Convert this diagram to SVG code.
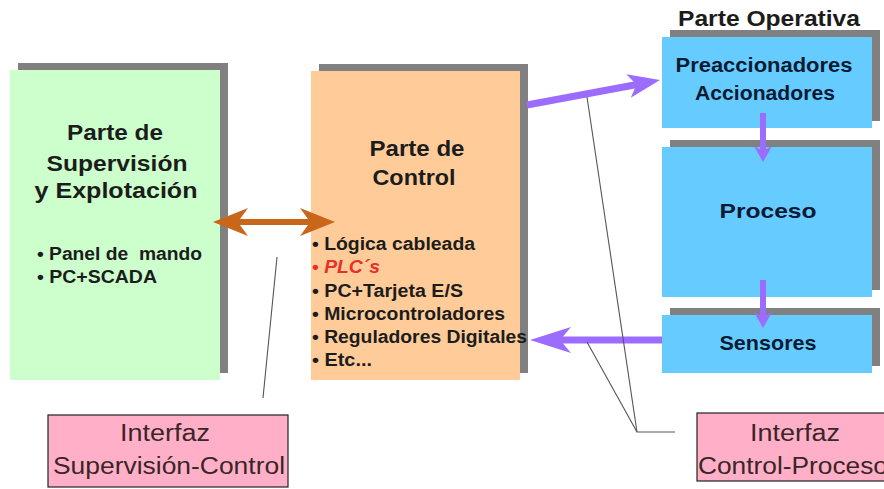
<svg xmlns="http://www.w3.org/2000/svg" width="884" height="489" viewBox="0 0 884 489">
<style>
.sh{fill:#808080}
.t{font-family:"Liberation Sans",Arial,sans-serif;font-weight:bold;fill:#1c1c1c}
.tb{font-family:"Liberation Sans",Arial,sans-serif;font-weight:bold;fill:#0b1a33}
.p{font-family:"Liberation Sans",Arial,sans-serif;fill:#3a2626;font-size:23px}
.lbl{fill:#ffb0c8;stroke:#222;stroke-width:1.2}
.thin{stroke:#555;stroke-width:1.1;fill:none}
.pur{fill:#9c6cff}
.purl{stroke:#9c6cff;fill:none}
</style>
<rect width="884" height="489" fill="#ffffff"/>

<g id="supervision">
<rect class="sh" x="18" y="63" width="210" height="310"/>
<rect x="10" y="70" width="210" height="310" fill="#ccffcc"/>
<text class="t" font-size="22" text-anchor="middle" x="115" y="140" textLength="96" lengthAdjust="spacingAndGlyphs">Parte de</text>
<text class="t" font-size="22" text-anchor="middle" x="117" y="171" textLength="141" lengthAdjust="spacingAndGlyphs">Supervisión</text>
<text class="t" font-size="22" text-anchor="middle" x="116" y="198" textLength="163" lengthAdjust="spacingAndGlyphs">y Explotación</text>
<text class="t" font-size="18" x="37" y="260" textLength="165" lengthAdjust="spacingAndGlyphs" xml:space="preserve">• Panel de  mando</text>
<text class="t" font-size="18" x="37" y="283" textLength="120" lengthAdjust="spacingAndGlyphs">• PC+SCADA</text>
</g>

<g id="control">
<rect class="sh" x="319" y="64" width="209" height="309"/>
<rect x="311" y="71" width="209" height="309" fill="#ffcc99"/>
<text class="t" font-size="22" text-anchor="middle" x="417" y="156" textLength="95" lengthAdjust="spacingAndGlyphs">Parte de</text>
<text class="t" font-size="22" text-anchor="middle" x="414" y="185" textLength="83" lengthAdjust="spacingAndGlyphs">Control</text>
<text class="t" font-size="18" x="312" y="250" textLength="163" lengthAdjust="spacingAndGlyphs">• Lógica cableada</text>
<text class="t" font-size="18" x="312" y="273" textLength="68" lengthAdjust="spacingAndGlyphs" style="fill:#e8302a"><tspan>• </tspan><tspan font-style="italic">PLC´s</tspan></text>
<text class="t" font-size="18" x="312" y="297" textLength="151" lengthAdjust="spacingAndGlyphs">• PC+Tarjeta E/S</text>
<text class="t" font-size="18" x="312" y="320" textLength="193" lengthAdjust="spacingAndGlyphs">• Microcontroladores</text>
<text class="t" font-size="18" x="312" y="343" textLength="215" lengthAdjust="spacingAndGlyphs">• Reguladores Digitales</text>
<text class="t" font-size="18" x="312" y="366" textLength="60" lengthAdjust="spacingAndGlyphs">• Etc...</text>
</g>

<g id="operativa-title">
<text class="t" font-size="22" text-anchor="middle" x="769" y="26" textLength="182" lengthAdjust="spacingAndGlyphs">Parte Operativa</text>
</g>

<g id="preaccionadores">
<rect class="sh" x="670" y="30" width="210" height="91"/>
<rect x="662" y="37" width="210" height="91" fill="#66ccff"/>
<text class="tb" font-size="20" text-anchor="middle" x="764" y="72" textLength="177" lengthAdjust="spacingAndGlyphs">Preaccionadores</text>
<text class="tb" font-size="20" text-anchor="middle" x="765" y="100" textLength="140" lengthAdjust="spacingAndGlyphs">Accionadores</text>
</g>

<g id="proceso">
<rect class="sh" x="670" y="140" width="210" height="150"/>
<rect x="662" y="147" width="210" height="150" fill="#66ccff"/>
<text class="tb" font-size="21" text-anchor="middle" x="768" y="218" textLength="97" lengthAdjust="spacingAndGlyphs">Proceso</text>
</g>

<g id="sensores">
<rect class="sh" x="670" y="308" width="210" height="58"/>
<rect x="662" y="315" width="210" height="58" fill="#66ccff"/>
<text class="tb" font-size="21" text-anchor="middle" x="768" y="350" textLength="97" lengthAdjust="spacingAndGlyphs">Sensores</text>
</g>

<g id="interfaz-sc">
<rect class="lbl" x="48" y="415" width="240" height="72"/>
<text class="p" text-anchor="middle" x="165" y="441" textLength="90" lengthAdjust="spacingAndGlyphs">Interfaz</text>
<text class="p" text-anchor="middle" x="169" y="474" textLength="232" lengthAdjust="spacingAndGlyphs">Supervisión-Control</text>
</g>

<g id="interfaz-cp">
<rect class="lbl" x="697" y="413" width="200" height="68"/>
<text class="p" text-anchor="middle" x="795" y="441" textLength="90" lengthAdjust="spacingAndGlyphs">Interfaz</text>
<text class="p" x="698" y="474" textLength="190" lengthAdjust="spacingAndGlyphs">Control-Proceso</text>
</g>

<g id="connectors">
<path d="M213,222 L248,208 L240,219 L308,219 L300,208 L335,222 L300,236 L308,225 L240,225 L248,236 Z" fill="#c8661a"/>
<line class="purl" x1="527" y1="105" x2="637" y2="84.5" stroke-width="7"/>
<path class="pur" d="M660,80 L626.3,74.2 L636.4,84.5 L630.8,97.8 Z"/>
<line class="purl" x1="662" y1="340" x2="558" y2="340" stroke-width="7"/>
<path class="pur" d="M530,340 L571,327 L560,340 L571,353 Z"/>
<line class="purl" x1="763" y1="113" x2="763" y2="153" stroke-width="6"/>
<path class="pur" d="M763,162 L754,146 L763,151 L772,146 Z"/>
<line class="purl" x1="763" y1="280" x2="763" y2="319" stroke-width="6"/>
<path class="pur" d="M763,328 L754,312 L763,317 L772,312 Z"/>
<line class="thin" x1="263" y1="398" x2="277" y2="257"/>
<polyline class="thin" points="587,97 637,432 675,432"/>
<line class="thin" x1="587" y1="342" x2="637" y2="432"/>
</g>
</svg>
